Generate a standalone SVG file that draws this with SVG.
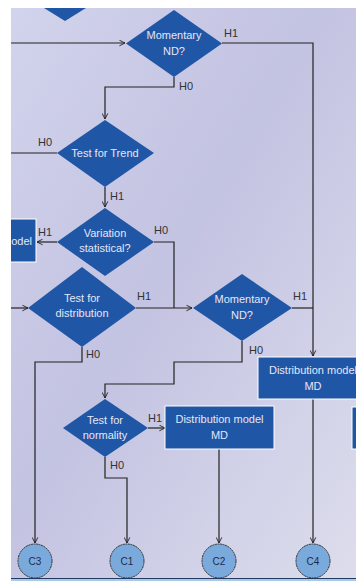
<svg xmlns="http://www.w3.org/2000/svg" width="356" height="581" viewBox="0 0 356 581">
<defs>
<linearGradient id="bg" x1="0" y1="0" x2="1" y2="1">
<stop offset="0" stop-color="#d2d3ec"/>
<stop offset="0.45" stop-color="#c3c3e2"/>
<stop offset="1" stop-color="#dddded"/>
</linearGradient>
<marker id="arr" viewBox="0 0 10 10" refX="9" refY="5" markerWidth="7" markerHeight="7" orient="auto" markerUnits="userSpaceOnUse">
<path d="M1,1 L9,5 L1,9" fill="none" stroke="#222" stroke-width="1.3"/>
</marker>
<clipPath id="leftclip"><rect x="11" y="0" width="345" height="581"/></clipPath>
<style>
.dia{fill:#1f56a5}
.box{fill:#1f56a5;stroke:#ffffff;stroke-width:1}
.t{font-family:"Liberation Sans",Arial,sans-serif;font-size:11px;fill:#e6e6f8;text-anchor:middle}
.lbl{font-family:"Liberation Sans",Arial,sans-serif;font-size:11px;fill:#333}
.c{fill:none;stroke:#222;stroke-width:1.2}
.circ{fill:#7aa9dc;stroke:#333;stroke-width:1;stroke-dasharray:2 0.6}
.ct{font-family:"Liberation Sans",Arial,sans-serif;font-size:10px;fill:#1a2a50;text-anchor:middle}
</style>
</defs>
<rect x="0" y="0" width="356" height="581" fill="#ffffff"/>
<rect x="11" y="8" width="345" height="571" fill="url(#bg)"/>
<rect x="11" y="579" width="345" height="2" fill="#a9c9ea"/>
<line x1="11" y1="578.5" x2="356" y2="578.5" stroke="#233a60" stroke-width="1"/>

<g id="connectors">
<path class="c" d="M11,43 H125" marker-end="url(#arr)"/>
<path class="c" d="M222,43 H313 V356" marker-end="url(#arr)"/>
<path class="c" d="M174,77 V87 H105 V119" marker-end="url(#arr)"/>
<path class="c" d="M57,153 H11"/>
<path class="c" d="M105,187 V207" marker-end="url(#arr)"/>
<path class="c" d="M57,242 H37" marker-end="url(#arr)"/>
<path class="c" d="M154,242 H174 V308"/>
<path class="c" d="M11,308 H28" marker-end="url(#arr)"/>
<path class="c" d="M136,308 H192" marker-end="url(#arr)"/>
<path class="c" d="M292,308 H313"/>
<path class="c" d="M242,341 V362 H174 V384 H105 V398" marker-end="url(#arr)"/>
<path class="c" d="M82,347 V362 H35 V543" marker-end="url(#arr)"/>
<path class="c" d="M148,428 H165" marker-end="url(#arr)"/>
<path class="c" d="M105,457 V478 H127 V543" marker-end="url(#arr)"/>
<path class="c" d="M219,449 V543" marker-end="url(#arr)"/>
<path class="c" d="M313,399 V543" marker-end="url(#arr)"/>
</g>

<g id="top-partial"><polygon class="dia" points="44,8 86,8 65,21"/></g>

<g id="momentary1">
<polygon class="dia" points="174,10 222,43.5 174,77 126,43.5"/>
<text class="t" x="174" y="39">Momentary</text>
<text class="t" x="174" y="55">ND?</text>
</g>

<g id="trend">
<polygon class="dia" points="105,120 154,153 105,187 57,153"/>
<text class="t" x="105" y="157">Test for Trend</text>
</g>

<g id="variation">
<polygon class="dia" points="105,208 154,242 105,276 57,242"/>
<text class="t" x="105" y="237">Variation</text>
<text class="t" x="105" y="252">statistical?</text>
</g>

<g id="model-left" clip-path="url(#leftclip)">
<rect class="box" x="5" y="219" width="31" height="43"/>
<text class="t" x="32" y="245" style="text-anchor:end">odel</text>
</g>

<g id="distribution">
<polygon class="dia" points="82,267 136,308 82,347 28,308"/>
<text class="t" x="82" y="302">Test for</text>
<text class="t" x="82" y="317">distribution</text>
</g>

<g id="momentary2">
<polygon class="dia" points="242,274 292,308 242,341 193,308"/>
<text class="t" x="242" y="303">Momentary</text>
<text class="t" x="242" y="319">ND?</text>
</g>

<g id="dist-model-right">
<rect class="box" x="258" y="357" width="110" height="42"/>
<text class="t" x="313" y="374">Distribution model</text>
<text class="t" x="313" y="390">MD</text>
</g>

<g id="normality">
<polygon class="dia" points="105,399 148,428 105,457 63,428"/>
<text class="t" x="105" y="424">Test for</text>
<text class="t" x="105" y="439">normality</text>
</g>

<g id="dist-model">
<rect class="box" x="165" y="406" width="109" height="43"/>
<text class="t" x="219.5" y="423">Distribution model</text>
<text class="t" x="219.5" y="439">MD</text>
</g>

<g id="box-far-right">
<rect class="box" x="352" y="407" width="10" height="42"/>
</g>

<g id="labels">
<text class="lbl" x="224" y="37">H1</text>
<text class="lbl" x="179" y="90">H0</text>
<text class="lbl" x="38" y="146">H0</text>
<text class="lbl" x="110" y="200">H1</text>
<text class="lbl" x="38" y="236">H1</text>
<text class="lbl" x="154" y="234">H0</text>
<text class="lbl" x="137" y="300">H1</text>
<text class="lbl" x="293" y="300">H1</text>
<text class="lbl" x="249" y="354">H0</text>
<text class="lbl" x="86" y="358">H0</text>
<text class="lbl" x="148" y="422">H1</text>
<text class="lbl" x="110" y="469">H0</text>
</g>

<g id="C3"><circle class="circ" cx="35" cy="561" r="17"/><text class="ct" x="35" y="565">C3</text></g>
<g id="C1"><circle class="circ" cx="127" cy="561" r="17"/><text class="ct" x="127" y="565">C1</text></g>
<g id="C2"><circle class="circ" cx="219" cy="561" r="17"/><text class="ct" x="219" y="565">C2</text></g>
<g id="C4"><circle class="circ" cx="313" cy="561" r="17"/><text class="ct" x="313" y="565">C4</text></g>
</svg>
